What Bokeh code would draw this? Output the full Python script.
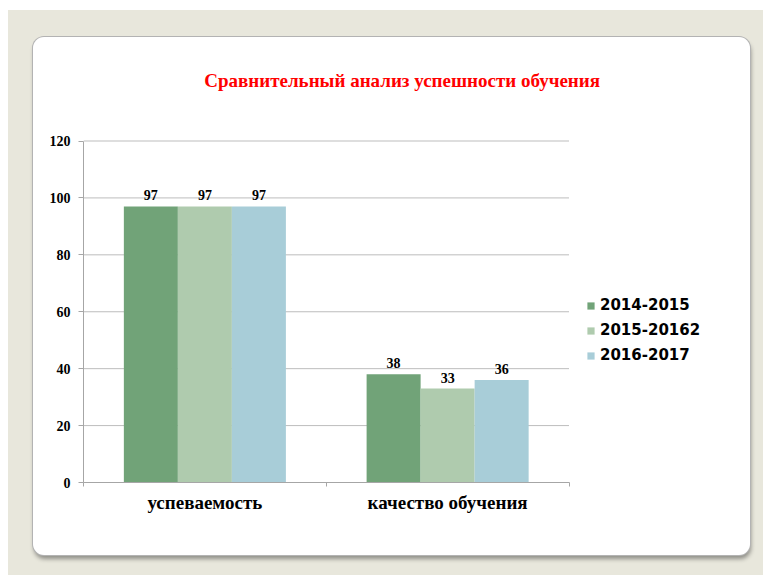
from bokeh.plotting import figure
from bokeh.models import (ColumnDataSource, Range1d, LinearAxis, Label,
                          FixedTicker, Legend, LegendItem, LabelSet, Spacer)
from bokeh.layouts import column, row
from bokeh.embed import file_html
from bokeh.resources import INLINE

# ---- data ----
categories = ["успеваемость", "качество обучения"]
series_names = ["2014-2015", "2015-20162", "2016-2017"]
values_2014 = [97, 38]
values_2015 = [97, 33]
values_2016 = [97, 36]
y_ticks = [0, 20, 40, 60, 80, 100, 120]
title_text = "Сравнительный анализ успешности  обучения"

series_values = [values_2014, values_2015, values_2016]
colors = ["#71a378", "#afcbae", "#a8cdd8"]
bar_w = 0.2225
offsets = [-bar_w, 0.0, bar_w]
n = len(categories)
centers = [i + 0.5 for i in range(n)]
y_max = y_ticks[-1]

SERIF = "Liberation Serif"

# geometry of the card (figure) and of the chart area inside it (pixels)
CARD_W, CARD_H = 717, 518
LEFT, BOTTOM = 50, 73
AREA_W, AREA_H = 485.5, 341.5          # pixel size of the plotted 0..n x 0..120 area
frame_w = CARD_W - LEFT
frame_h = CARD_H - BOTTOM

p = figure(x_range=Range1d(0, n * frame_w / AREA_W), y_range=Range1d(0, y_max * frame_h / AREA_H),
           width=CARD_W, height=CARD_H, output_backend="svg", toolbar_location=None,
           x_axis_location=None, title_location=None,
           min_border_left=LEFT, min_border_right=0, min_border_top=0, min_border_bottom=BOTTOM)
p.border_fill_color = None
p.background_fill_color = None
p.outline_line_color = None
p.styles = {"border-radius": "11px", "background-color": "white",
            "box-shadow": "0 0 0 1px #b3b3b3, 1px 4px 4px rgba(0,0,0,0.38)"}

# y axis
ya = p.yaxis[0]
ya.ticker = FixedTicker(ticks=y_ticks)
ya.bounds = (0, y_max)
ya.axis_line_color = "#a6a6a6"
ya.major_tick_line_color = "#a6a6a6"
ya.major_tick_in = 0
ya.major_tick_out = 5
ya.minor_tick_line_color = None
ya.major_label_text_font = SERIF
ya.major_label_text_font_style = "bold"
ya.major_label_text_font_size = "14px"
ya.major_label_text_color = "black"
ya.major_label_standoff = 8
p.ygrid.visible = False
p.xgrid.visible = False

# horizontal grid lines across the category area
p.segment(x0=[0] * len(y_ticks), x1=[n] * len(y_ticks), y0=y_ticks, y1=y_ticks,
          line_color="#bdbdbd", line_width=1)

# boundary tick axis (category separators)
bounds = list(range(n + 1))
tick_axis = LinearAxis(ticker=FixedTicker(ticks=bounds), bounds=(0, n),
                       axis_line_color="#a6a6a6", major_tick_line_color="#a6a6a6",
                       major_tick_in=0, major_tick_out=4, minor_tick_line_color=None,
                       major_label_text_font_size="1px", major_label_standoff=0,
                       major_label_overrides={b: "" for b in bounds})
p.add_layout(tick_axis, "below")

cat_axis = LinearAxis(ticker=FixedTicker(ticks=centers),
                      major_label_overrides={c: name for c, name in zip(centers, categories)},
                      axis_line_color=None, major_tick_line_color=None,
                      major_tick_in=0, major_tick_out=0, minor_tick_line_color=None,
                      major_label_text_font=SERIF, major_label_text_font_style="bold",
                      major_label_text_font_size="19px", major_label_text_color="black",
                      major_label_standoff=5)
p.add_layout(cat_axis, "below")

items = []
for name, vals, col, off in zip(series_names, series_values, colors, offsets):
    src = ColumnDataSource(dict(x=[c + off for c in centers], value=vals,
                                label=[str(v) for v in vals]))
    r = p.vbar(x="x", top="value", width=bar_w, bottom=0, source=src,
               fill_color=col, line_color=col, line_width=0)
    items.append(LegendItem(label=name, renderers=[r]))
    p.add_layout(LabelSet(x="x", y="value", text="label", source=src,
                          text_align="center", text_baseline="alphabetic", y_offset=6,
                          text_font=SERIF, text_font_style="bold", text_font_size="14px",
                          text_color="black"))

legend = Legend(items=items, location=(503, 117), orientation="vertical",
                label_text_font="DejaVu Sans", label_text_font_style="bold",
                label_text_font_size="15px", label_text_color="black",
                glyph_width=9, glyph_height=9, label_standoff=5, spacing=5, label_height=20,
                padding=0, margin=0, border_line_color=None, background_fill_alpha=0)
p.add_layout(legend)

p.add_layout(Label(x=321, y=402, x_units="screen", y_units="screen", text=title_text,
                   text_align="center", text_baseline="middle", text_color="#ff0000",
                   text_font=SERIF, text_font_style="bold", text_font_size="19px"))

root = column(Spacer(width=763, height=37),
              row(Spacer(width=33, height=CARD_H), p, width=763, height=CARD_H),
              width=763, height=575,
              styles={"background": "linear-gradient(to right, #ffffff 8px, transparent 8px), "
                                    "linear-gradient(#ffffff 10px, #e8e7dc 10px)"})

open("out.html", "w").write(file_html(root, INLINE))
